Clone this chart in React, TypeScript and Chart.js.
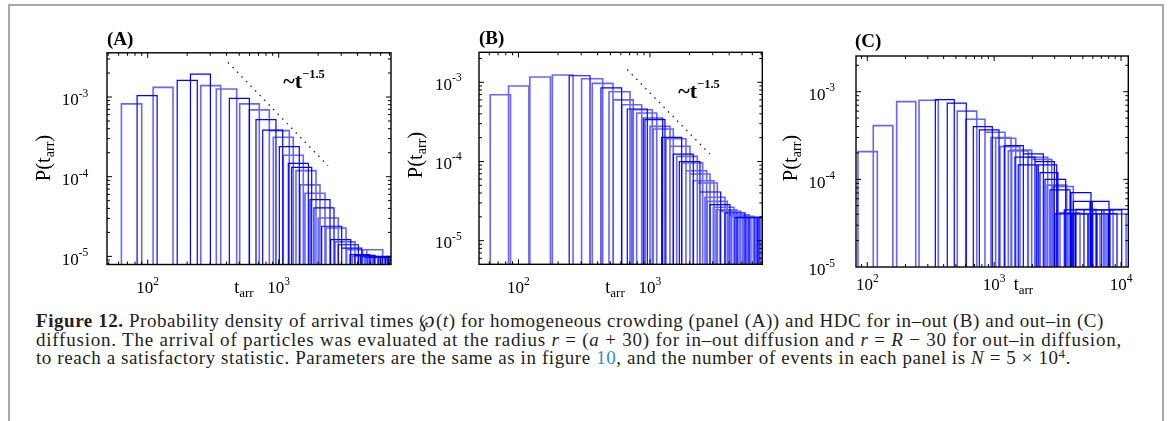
import React, { useEffect, useLayoutEffect, useRef } from "react";
import { Chart, registerables } from "chart.js";

Chart.register(...registerables);

type Bin = [number, number, number]; // [left edge t, right edge t, P(t_arr)]
type Pt = { x: number; y: number };

// ---------------- Panel (A): homogeneous crowding ----------------
const binsADark: Bin[] = [
  [83, 118, 1.04e-3], [168, 239, 1.62e-3], [212, 301, 1.94e-3], [420, 597, 9.6e-4],
  [671, 953, 5.2e-4], [755, 1073, 3.85e-4], [1011, 1436, 2.38e-4], [1184, 1683, 1.47e-4],
  [1256, 1786, 1.31e-4], [1734, 2464, 5.14e-5], [1858, 2643, 4.05e-5], [2128, 3027, 2.39e-5],
  [2494, 3548, 1.62e-5], [2851, 4053, 1.4e-5], [3027, 4303, 1.27e-5], [3499, 4973, 1.05e-5],
  [3822, 5432, 1.03e-5], [4200, 5970, 9.9e-6], [4560, 6471, 9.8e-6], [4800, 6820, 9.7e-6],
  [5333, 7590, 1.0e-5], [5727, 8150, 9.8e-6], [6200, 8800, 9.9e-6], [6590, 9360, 1.0e-5],
  [6900, 9800, 9.7e-6],
];
const binsALight: Bin[] = [
  [63, 90, 8.2e-4], [110, 156, 1.32e-3], [254, 361, 1.39e-3], [334, 478, 1.26e-3],
  [504, 711, 8.2e-4], [597, 848, 6.9e-4], [848, 1205, 3.78e-4], [910, 1292, 3.12e-4],
  [1084, 1541, 1.86e-4], [1355, 1926, 1.19e-4], [1455, 2066, 7.9e-5], [1588, 2256, 6.2e-5],
  [2005, 2851, 3.03e-5], [2296, 3265, 2.27e-5], [2691, 3822, 1.52e-5], [3304, 4697, 1.21e-5],
  [3650, 5190, 1.0e-5], [4053, 5754, 9.97e-6], [4375, 6219, 1.21e-5], [4973, 7075, 9.7e-6],
  [5150, 7320, 9.9e-6], [5950, 8450, 9.75e-6], [6146, 8730, 9.56e-6], [6800, 9650, 9.9e-6],
];
const guideA: Pt[] = [{ x: 410, y: 2.72e-3 }, { x: 2375, y: 1.375e-4 }];

// ---------------- Panel (B): HDC, in-out ----------------
const binsBDark: Bin[] = [
  [243, 350, 1.21e-3], [424, 609, 8.5e-4], [672, 954, 4.6e-4], [889, 1249, 3.54e-4],
  [916, 1300, 3.37e-4], [1227, 1742, 2.02e-4], [1504, 2134, 1.24e-4], [1671, 2399, 1.0e-4],
  [2399, 3449, 4.12e-5], [2860, 4055, 2.85e-5], [3717, 5278, 2.24e-5], [4430, 6285, 1.96e-5],
  [4600, 6540, 1.97e-5], [5095, 7230, 1.96e-5], [5465, 7760, 1.97e-5], [5650, 8030, 1.96e-5],
  [6285, 8920, 1.96e-5], [6740, 9570, 1.97e-5],
];
const binsBLight: Bin[] = [
  [61, 87, 6.97e-4], [84, 120, 8.98e-4], [122, 175, 1.166e-3], [181, 260, 1.236e-3],
  [302, 437, 1.11e-3], [364, 523, 9.7e-4], [488, 705, 7.6e-4], [526, 746, 6.0e-4],
  [609, 865, 5.2e-4], [726, 1041, 4.5e-4], [792, 1125, 4.1e-4], [1000, 1419, 2.78e-4],
  [1059, 1504, 2.57e-4], [1323, 1878, 1.94e-4], [1419, 2014, 1.56e-4], [1596, 2291, 1.16e-4],
  [1742, 2516, 9.6e-5], [1878, 2698, 7.65e-5], [2014, 2860, 6.95e-5], [2134, 3067, 5.72e-5],
  [2291, 3251, 5.35e-5], [2620, 3717, 3.53e-5], [2727, 3870, 3.14e-5], [3029, 4354, 2.64e-5],
  [3176, 4564, 2.46e-5], [3405, 4895, 2.35e-5], [3939, 5690, 2.13e-5], [4182, 6178, 2.03e-5],
  [4750, 6750, 1.97e-5], [4900, 6960, 1.96e-5], [5300, 7530, 1.97e-5], [5860, 8320, 1.97e-5],
  [6100, 8670, 1.96e-5], [6500, 9240, 1.97e-5],
];
const guideB: Pt[] = [{ x: 671, y: 1.45e-3 }, { x: 2845, y: 1.245e-4 }];

// ---------------- Panel (C): HDC, out-in ----------------
const binsCDark: Bin[] = [
  [344, 485, 8.1e-4], [427, 603, 7.4e-4], [685, 967, 4.0e-4], [764, 1092, 3.66e-4],
  [1202, 1698, 2.42e-4], [1460, 2099, 1.79e-4], [1549, 2228, 1.46e-4], [1698, 2441, 1.95e-4],
  [2099, 2980, 1.59e-4], [2165, 3112, 1.46e-4], [2298, 3184, 1.19e-4], [2516, 3664, 1.0e-4],
  [2756, 3963, 7.6e-5], [3017, 4339, 4.03e-5], [3573, 5108, 4.48e-5], [4035, 5800, 7.05e-5],
  [4109, 5906, 4.03e-5], [4207, 5938, 5.6e-5], [4418, 6350, 4.54e-5], [5108, 7343, 4.48e-5],
  [5494, 7900, 4.03e-5], [5696, 8044, 5.6e-5], [6470, 9300, 4.03e-5], [7047, 10130, 4.48e-5],
  [8190, 11700, 4.54e-5],
];
const binsCLight: Bin[] = [
  [84.5, 120, 2.07e-4], [111.5, 159, 4.1e-4], [170.5, 241, 7.7e-4], [256, 363, 8.0e-4],
  [512, 729, 6.0e-4], [597, 847, 4.84e-4], [847, 1218, 3.44e-4], [944, 1358, 2.99e-4],
  [1028, 1479, 2.94e-4], [1112, 1599, 2.36e-4], [1293, 1859, 2.11e-4], [1375, 1977, 2.16e-4],
  [1839, 2644, 1.79e-4], [1977, 2843, 1.69e-4], [2610, 3732, 8.6e-5], [2926, 4207, 8.3e-5],
  [3304, 4752, 4.14e-5], [3822, 5494, 4.03e-5], [4752, 6830, 4.03e-5], [6015, 8650, 4.48e-5],
  [7620, 10960, 4.03e-5],
];

// ---------------- tick values ----------------
const xTicksAB = [100, 1000];
const xTicksC = [100, 1000, 10000];
const yTicksAll = [1e-5, 1e-4, 1e-3];

const SERIF = '"Liberation Serif", "Times New Roman", serif';

interface PanelSpec {
  id: string;
  letter: string;
  box: { left: number; top: number; width: number; height: number };
  plot: { left: number; top: number; right: number; bottom: number };
  xRange: [number, number];
  yRange: [number, number];
  dark: Bin[];
  light: Bin[];
  guide?: Pt[];
  slopeAt?: Pt;
  xTicks: number[];
  yTicks: number[];
  xTitleAt: number;
  xLabelDy: number;
  yLabelGap: number;
  yLabelDy: number;
  yTitleX: number;
  yTitleY: number;
  letterX: number;
  letterY: number;
}

const panels: PanelSpec[] = [
  {
    id: "A", letter: "(A)",
    box: { left: 20, top: 20, width: 380, height: 290 },
    plot: { left: 107, top: 52.8, right: 391, bottom: 264.5 },
    xRange: [48.9, 7199], yRange: [7.91e-6, 3.585e-3],
    dark: binsADark, light: binsALight, guide: guideA, slopeAt: { x: 1084, y: 1.297e-3 },
    xTicks: xTicksAB, yTicks: yTicksAll, xTitleAt: 543,
    xLabelDy: 28.8, yLabelGap: 18.7, yLabelDy: 8.5,
    yTitleX: 49.8, yTitleY: 158, letterX: 107, letterY: 44.5,
  },
  {
    id: "B", letter: "(B)",
    box: { left: 400, top: 20, width: 375, height: 290 },
    plot: { left: 479, top: 52.3, right: 762.3, bottom: 264.3 },
    xRange: [50.1, 7145], yRange: [5.035e-6, 2.392e-3],
    dark: binsBDark, light: binsBLight, guide: guideB, slopeAt: { x: 1641, y: 6.34e-4 },
    xTicks: xTicksAB, yTicks: yTicksAll, xTitleAt: 542,
    xLabelDy: 28.7, yLabelGap: 17.3, yLabelDy: 7.5,
    yTitleX: 422, yTitleY: 155, letterX: 479, letterY: 43.5,
  },
  {
    id: "C", letter: "(C)",
    box: { left: 775, top: 20, width: 370, height: 290 },
    plot: { left: 856, top: 56, right: 1128.3, bottom: 267 },
    xRange: [81.5, 11415], yRange: [1e-5, 2.553e-3],
    dark: binsCDark, light: binsCLight,
    xTicks: xTicksC, yTicks: yTicksAll, xTitleAt: 1700,
    xLabelDy: 23, yLabelGap: 21, yLabelDy: 8.3,
    yTitleX: 797, yTitleY: 158, letterX: 855, letterY: 46.5,
  },
];

// caption line target widths (page px)
const captionWidths = [1068, 1086, 1035];

function binPath(bins: Bin[], floor: number) {
  const pts: { x: number; y: number | null }[] = [];
  bins.forEach(([l, r, h]) => {
    pts.push({ x: l, y: floor }, { x: l, y: h }, { x: r, y: h }, { x: r, y: floor }, { x: r, y: null });
  });
  return pts;
}

function drawPow(
  ctx: CanvasRenderingContext2D, base: string, exp: string, x: number, baseline: number,
  align: "center" | "right" | "left", baseFont: string, supFont: string, raise: number
) {
  ctx.font = baseFont;
  const wb = ctx.measureText(base).width;
  ctx.font = supFont;
  const we = ctx.measureText(exp).width;
  const total = wb + we;
  const sx = align === "center" ? x - total / 2 : align === "right" ? x - total : x;
  ctx.textAlign = "left";
  ctx.textBaseline = "alphabetic";
  ctx.font = baseFont;
  ctx.fillText(base, sx, baseline);
  ctx.font = supFont;
  ctx.fillText(exp, sx + wb, baseline - raise);
  return total;
}

function drawSub(
  ctx: CanvasRenderingContext2D, parts: [string, boolean][], x: number, baseline: number,
  font: string, subFont: string, drop: number
) {
  let w = 0;
  parts.forEach(([t, sub]) => { ctx.font = sub ? subFont : font; w += ctx.measureText(t).width; });
  let cx = x - w / 2;
  ctx.textAlign = "left";
  ctx.textBaseline = "alphabetic";
  parts.forEach(([t, sub]) => {
    ctx.font = sub ? subFont : font;
    ctx.fillText(t, cx, baseline + (sub ? drop : 0));
    cx += ctx.measureText(t).width;
  });
}

function makeAxesPlugin(spec: PanelSpec) {
  return {
    id: "axes" + spec.id,
    afterDraw(chart: any) {
      const ctx = chart.ctx as CanvasRenderingContext2D;
      const { left, right, top, bottom } = chart.chartArea;
      const xs = chart.scales.x;
      const ys = chart.scales.y;
      const ox = spec.box.left;
      const oy = spec.box.top;
      ctx.save();
      // inward ticks on all four sides
      ctx.strokeStyle = "#000";
      ctx.lineWidth = 1;
      ctx.beginPath();
      const [x0, x1] = spec.xRange;
      for (let e = Math.floor(Math.log10(x0)); e <= Math.ceil(Math.log10(x1)); e++) {
        for (let m = 1; m <= 9; m++) {
          const v = m * Math.pow(10, e);
          if (v <= x0 || v >= x1) continue;
          const p = xs.getPixelForValue(v);
          const len = m === 1 ? 5 : 3;
          ctx.moveTo(p, bottom); ctx.lineTo(p, bottom - len);
          ctx.moveTo(p, top); ctx.lineTo(p, top + len);
        }
      }
      const [y0, y1] = spec.yRange;
      for (let e = Math.floor(Math.log10(y0)); e <= Math.ceil(Math.log10(y1)); e++) {
        for (let m = 1; m <= 9; m++) {
          const v = m * Math.pow(10, e);
          if (v <= y0 || v >= y1) continue;
          const p = ys.getPixelForValue(v);
          const len = m === 1 ? 5 : 3;
          ctx.moveTo(left, p); ctx.lineTo(left + len, p);
          ctx.moveTo(right, p); ctx.lineTo(right - len, p);
        }
      }
      ctx.stroke();
      ctx.lineWidth = 1.4;
      ctx.strokeRect(left, top, right - left, bottom - top);

      ctx.fillStyle = "#000";
      const baseFont = `17px ${SERIF}`;
      const supFont = `11.5px ${SERIF}`;
      spec.xTicks.forEach((v) => {
        const p = xs.getPixelForValue(v);
        drawPow(ctx, "10", String(Math.round(Math.log10(v))), p, bottom + spec.xLabelDy, "center", baseFont, supFont, 8.5);
      });
      spec.yTicks.forEach((v) => {
        const p = ys.getPixelForValue(v);
        drawPow(ctx, "10", String(Math.round(Math.log10(v))), left - spec.yLabelGap, p + spec.yLabelDy, "right", baseFont, supFont, 8.5);
      });
      // x title t_arr
      drawSub(ctx, [["t", false], ["arr", true]], xs.getPixelForValue(spec.xTitleAt), bottom + spec.xLabelDy,
        `18px ${SERIF}`, `13px ${SERIF}`, 3.5);
      // y title P(t_arr)
      ctx.save();
      ctx.translate(spec.yTitleX - ox, spec.yTitleY - oy);
      ctx.rotate(-Math.PI / 2);
      drawSub(ctx, [["P(t", false], ["arr", true], [")", false]], 0, 0, `20.5px ${SERIF}`, `14px ${SERIF}`, 4);
      ctx.restore();
      // panel letter
      ctx.font = `bold 19px ${SERIF}`;
      ctx.textAlign = "left";
      ctx.textBaseline = "alphabetic";
      ctx.fillText(spec.letter, spec.letterX - ox, spec.letterY - oy);
      // slope annotation
      if (spec.slopeAt) {
        const px = xs.getPixelForValue(spec.slopeAt.x);
        const py = ys.getPixelForValue(spec.slopeAt.y);
        drawPow(ctx, "~t", "\u22121.5", px, py, "left", `bold 22px ${SERIF}`, `bold 12.5px ${SERIF}`, 10);
      }
      ctx.restore();
    },
  };
}

function Panel({ spec }: { spec: PanelSpec }) {
  const ref = useRef<HTMLCanvasElement | null>(null);
  useEffect(() => {
    const canvas = ref.current;
    if (!canvas) return;
    const floor = spec.yRange[0] / 100;
    const datasets: any[] = [
      {
        data: binPath(spec.light, floor),
        borderColor: "rgba(0,0,255,0.6)",
        borderWidth: 1.6,
        pointRadius: 0,
        fill: false,
        spanGaps: false,
        tension: 0,
      },
      {
        data: binPath(spec.dark, floor),
        borderColor: "#0000ff",
        borderWidth: 1.2,
        pointRadius: 0,
        fill: false,
        spanGaps: false,
        tension: 0,
      },
    ];
    if (spec.guide) {
      datasets.push({
        data: spec.guide,
        borderColor: "#222",
        borderWidth: 1.3,
        borderDash: [1.5, 5],
        pointRadius: 0,
        fill: false,
      });
    }
    const pad = {
      left: spec.plot.left - spec.box.left,
      top: spec.plot.top - spec.box.top,
      right: spec.box.left + spec.box.width - spec.plot.right,
      bottom: spec.box.top + spec.box.height - spec.plot.bottom,
    };
    const chart = new Chart(canvas, {
      type: "line",
      data: { datasets },
      options: {
        animation: false,
        responsive: false,
        maintainAspectRatio: false,
        devicePixelRatio: 1,
        layout: { padding: pad },
        events: [],
        plugins: { legend: { display: false }, tooltip: { enabled: false } },
        scales: {
          x: { type: "logarithmic", min: spec.xRange[0], max: spec.xRange[1], display: false },
          y: { type: "logarithmic", min: spec.yRange[0], max: spec.yRange[1], display: false },
        },
      } as any,
      plugins: [makeAxesPlugin(spec)],
    });
    return () => chart.destroy();
  }, [spec]);
  return (
    <canvas
      ref={ref}
      width={spec.box.width}
      height={spec.box.height}
      style={{
        position: "absolute",
        left: spec.box.left,
        top: spec.box.top,
        width: spec.box.width,
        height: spec.box.height,
      }}
    />
  );
}

function CaptionLine({ target, children }: { target: number; children: React.ReactNode }) {
  const ref = useRef<HTMLSpanElement | null>(null);
  useLayoutEffect(() => {
    const el = ref.current;
    if (!el) return;
    el.style.letterSpacing = "0px";
    const w = el.getBoundingClientRect().width;
    const n = (el.textContent || "").length;
    if (n > 0) el.style.letterSpacing = `${(target - w) / n}px`;
  }, [target]);
  return (
    <div>
      <span ref={ref} style={{ display: "inline-block" }}>{children}</span>
    </div>
  );
}

export default function App() {
  const sup: React.CSSProperties = { fontSize: "0.68em", position: "relative", top: "-0.5em" };
  return (
    <div style={{ position: "absolute", left: 0, top: 0, width: 1168, height: 421, overflow: "hidden", background: "#fff" }}>
      <div
        style={{
          position: "absolute", left: 8, top: 4, width: 1156, height: 417, boxSizing: "border-box",
          border: "2px solid #a8a8a8", borderBottom: "none",
        }}
      />
      {panels.map((p) => (
        <Panel key={p.id} spec={p} />
      ))}
      <div
        style={{
          position: "absolute", left: 36, top: 312, fontFamily: SERIF, fontSize: 19,
          lineHeight: "18.5px", whiteSpace: "nowrap", color: "#231f20",
        }}
      >
        <CaptionLine target={captionWidths[0]}>
          <b>Figure 12.</b> Probability density of arrival times ℘(<i>t</i>) for homogeneous crowding (panel (A)) and HDC for in–out (B) and out–in (C)
        </CaptionLine>
        <CaptionLine target={captionWidths[1]}>
          diffusion. The arrival of particles was evaluated at the radius <i>r</i> = (<i>a</i> + 30) for in–out diffusion and <i>r</i> = <i>R</i> − 30 for out–in diffusion,
        </CaptionLine>
        <CaptionLine target={captionWidths[2]}>
          to reach a satisfactory statistic. Parameters are the same as in figure <span style={{ color: "#2b8fcf" }}>10</span>, and the number of events in each panel is <i>N</i> = 5 × 10<span style={sup}>4</span>.
        </CaptionLine>
      </div>
    </div>
  );
}
